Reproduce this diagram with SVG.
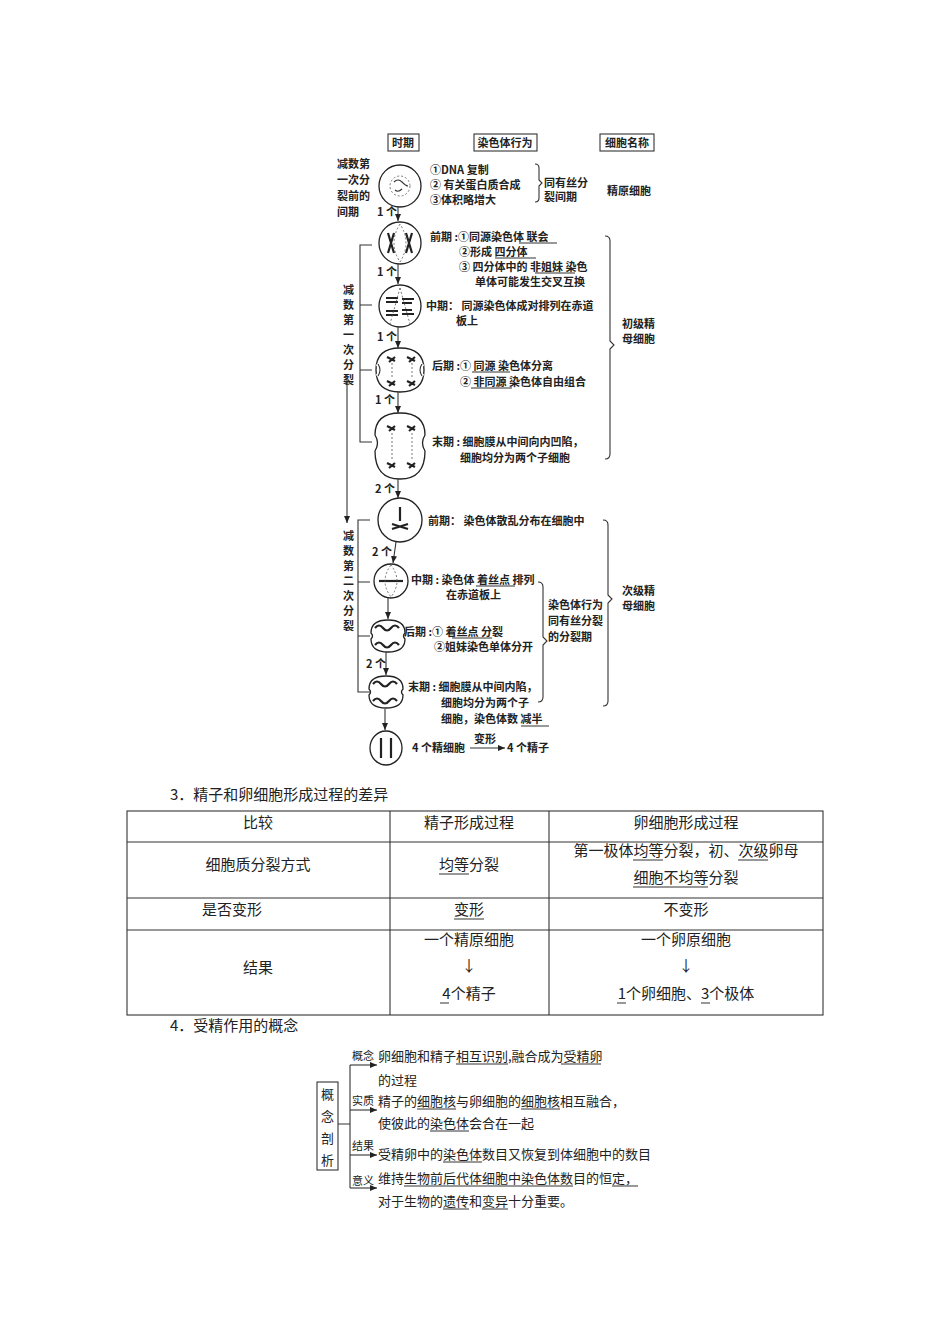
<svg xmlns="http://www.w3.org/2000/svg" width="950" height="1344" viewBox="0 0 950 1344">
<style>
text{font-family:"Noto Sans CJK SC","Noto Sans",sans-serif;fill:#222}
.s{font-size:11px;font-weight:bold}
.m{font-size:15px}
.ln{stroke:#333;stroke-width:1.1;fill:none}
.cell{stroke:#222;stroke-width:1.3;fill:#fff}
.ch{stroke:#222;stroke-width:2.2;fill:none}
.dot{stroke:#555;stroke-width:0.8;stroke-dasharray:2 2;fill:none}
.u{stroke:#333;stroke-width:1}
</style>
<defs>
<marker id="a" markerWidth="8" markerHeight="8" refX="7" refY="4" orient="auto" markerUnits="userSpaceOnUse"><path d="M0,1 L7,4 L0,7 z" fill="#222"/></marker>
</defs>
<rect width="950" height="1344" fill="#fff"/>

<g id="headers">
<rect x="388" y="134" width="31" height="17" class="ln"/><text x="403" y="147" class="s" text-anchor="middle">时期</text>
<rect x="474" y="134" width="63" height="17" class="ln"/><text x="505" y="147" class="s" text-anchor="middle">染色体行为</text>
<rect x="600" y="134" width="54" height="17" class="ln"/><text x="627" y="147" class="s" text-anchor="middle">细胞名称</text>
</g>

<g id="interphase">
<text x="337" y="168" class="s">减数第</text><text x="337" y="184" class="s">一次分</text><text x="337" y="200" class="s">裂前的</text><text x="337" y="216" class="s">间期</text>
<circle cx="400" cy="186" r="21" class="cell"/><circle cx="400" cy="186" r="10" class="dot"/>
<path d="M394,182 q4,-4 8,0 t6,4 M395,190 q3,3 7,-1" class="ln"/>
<text x="430" y="174" class="s">①DNA 复制</text>
<text x="430" y="189" class="s">② 有关蛋白质合成</text>
<text x="430" y="204" class="s">③体积略增大</text>
<path d="M535,164 q4,0 4,4 v12 l3,3 l-3,3 v12 q0,4 -4,4" class="ln"/>
<text x="544" y="187" class="s">同有丝分</text><text x="544" y="201" class="s">裂间期</text>
<text x="607" y="195" class="s">精原细胞</text>
</g>

<g id="meiosis1">
<circle cx="400" cy="243" r="21" class="cell"/>
<path d="M388,233 l6,20 M394,233 l-6,20 M406,233 l6,20 M412,233 l-6,20" class="ch"/>
<path d="M400,224 q-12,19 0,38 q12,-19 0,-38" class="dot"/>
<text x="430" y="241" class="s">前期 :①同源染色体 联会</text><line x1="519" y1="243" x2="557" y2="243" class="u"/>
<text x="459" y="256" class="s">②形成 四分体</text><line x1="495" y1="258" x2="536" y2="258" class="u"/>
<text x="459" y="271" class="s">③ 四分体中的 非姐妹 染色</text><line x1="535" y1="273" x2="575" y2="273" class="u"/>
<text x="475" y="286" class="s">单体可能发生交叉互换</text>

<circle cx="400" cy="306" r="21" class="cell"/>
<path d="M386,298 h12 M386,302 h12 M402,299 h12 M402,303 h10 M386,311 h12 M386,315 h12 M402,310 h10 M402,314 h12" class="ch"/>
<path d="M400,288 l-10,36 M400,288 l10,36" class="dot"/>
<text x="426" y="310" class="s">中期： 同源染色体成对排列在赤道</text>
<text x="456" y="325" class="s">板上</text>

<path d="M376,370 q0,-22 24,-22 q24,0 24,22 q0,22 -24,22 q-24,0 -24,-22 z" class="cell"/>
<path d="M377,364 q5,6 0,12 M423,364 q-5,6 0,12" stroke="#fff" stroke-width="3" fill="none"/>
<path d="M378,364 q4,6 0,12 M422,364 q-4,6 0,12" class="ln"/>
<path d="M387,357 l8,4 M389,362 l6,-5 M407,357 l8,4 M409,362 l6,-5 M387,381 l8,4 M389,386 l6,-5 M407,381 l8,4 M409,386 l6,-5" class="ch"/>
<path d="M392,363 v16 M412,363 v16" class="dot"/>
<text x="432" y="370" class="s">后期 :① 同源 染色体分离</text><line x1="472" y1="372" x2="510" y2="372" class="u"/>
<text x="460" y="386" class="s">② 非同源 染色体自由组合</text><line x1="471" y1="388" x2="512" y2="388" class="u"/>

<path d="M400,413 q25,0 25,22 q-5,8 0,16 q0,28 -25,28 q-25,0 -25,-28 q5,-8 0,-16 q0,-22 25,-22 z" class="cell"/>
<path d="M387,426 l8,4 M389,431 l6,-5 M407,426 l8,4 M409,431 l6,-5 M387,463 l8,4 M389,468 l6,-5 M407,463 l8,4 M409,468 l6,-5" class="ch"/>
<path d="M392,433 v28 M412,433 v28" class="dot"/>
<text x="432" y="446" class="s">末期 : 细胞膜从中间向内凹陷，</text>
<text x="460" y="462" class="s">细胞均分为两个子细胞</text>

<path d="M372,245 h-12 v197 h12 M360,305 h12 M360,370 h12" class="ln"/>
<text x="343" y="294" class="s">减</text><text x="343" y="309" class="s">数</text><text x="343" y="324" class="s">第</text><text x="343" y="339" class="s">一</text><text x="343" y="354" class="s">次</text><text x="343" y="369" class="s">分</text><text x="343" y="384" class="s">裂</text>
<path d="M605,236 q5,0 5,5 v100 l4,4 l-4,4 v105 q0,5 -5,5" class="ln"/>
<text x="622" y="328" class="s">初级精</text><text x="622" y="343" class="s">母细胞</text>
</g>

<g id="meiosis2">
<circle cx="400" cy="520" r="22" class="cell"/>
<path d="M400,507 v14 M392,524 l16,5 M392,529 l16,-5" class="ch"/>
<text x="428" y="525" class="s">前期：  染色体散乱分布在细胞中</text>

<circle cx="391" cy="581" r="17" class="cell"/>
<path d="M379,581 h24" class="ch"/><path d="M391,565 q-12,16 0,32 q12,-16 0,-32" class="dot"/>
<text x="411" y="584" class="s">中期 : 染色体 着丝点 排列</text><line x1="476" y1="586" x2="515" y2="586" class="u"/>
<text x="446" y="599" class="s">在赤道板上</text>

<path d="M388,620 q17,0 17,13 q-3,3 0,6 q0,13 -17,13 q-17,0 -17,-13 q3,-3 0,-6 q0,-13 17,-13 z" class="cell"/>
<path d="M375,628 q4,-5 8,0 t8,0 t8,0 M375,645 q4,-5 8,0 t8,0 t8,0" class="ch"/>
<text x="404" y="636" class="s">后期 :①  着丝点  分裂</text><line x1="452" y1="638" x2="492" y2="638" class="u"/>
<text x="434" y="651" class="s">②姐妹染色单体分开</text>

<path d="M386,676 q17,0 17,13 q-3,3 0,6 q0,13 -17,13 q-17,0 -17,-13 q3,-3 0,-6 q0,-13 17,-13 z" class="cell"/>
<path d="M373,684 q4,-5 8,0 t8,0 t8,0 M373,701 q4,-5 8,0 t8,0 t8,0" class="ch"/>
<text x="408" y="691" class="s">末期 : 细胞膜从中间内陷，</text>
<text x="441" y="707" class="s">细胞均分为两个子</text>
<text x="441" y="723" class="s">细胞，染色体数 减半</text><line x1="521" y1="726" x2="549" y2="726" class="u"/>

<ellipse cx="386" cy="748" rx="16" ry="17" class="cell"/>
<path d="M381,738 v20 M391,738 v20" class="ch"/>
<text x="412" y="752" class="s">4 个精细胞</text>
<line x1="470" y1="748" x2="505" y2="748" class="ln" marker-end="url(#a)"/>
<text x="474" y="743" class="s">变形</text>
<text x="507" y="752" class="s">4 个精子</text>

<path d="M370,520 h-12 v172 h12 M358,582 h12 M358,636 h12" class="ln"/>
<text x="343" y="540" class="s">减</text><text x="343" y="555" class="s">数</text><text x="343" y="570" class="s">第</text><text x="343" y="585" class="s">二</text><text x="343" y="600" class="s">次</text><text x="343" y="615" class="s">分</text><text x="343" y="630" class="s">裂</text>
<path d="M538,582 q5,0 5,5 v50 l4,4 l-4,4 v52 q0,5 -5,5" class="ln"/>
<text x="548" y="609" class="s">染色体行为</text><text x="548" y="625" class="s">同有丝分裂</text><text x="548" y="641" class="s">的分裂期</text>
<path d="M603,520 q5,0 5,5 v70 l4,4 l-4,4 v98 q0,5 -5,5" class="ln"/>
<text x="622" y="595" class="s">次级精</text><text x="622" y="610" class="s">母细胞</text>
</g>

<g id="connectors">
<line x1="398" y1="207" x2="398" y2="221" class="ln" marker-end="url(#a)"/>
<line x1="398" y1="264" x2="398" y2="284" class="ln" marker-end="url(#a)"/>
<line x1="398" y1="327" x2="398" y2="348" class="ln" marker-end="url(#a)"/>
<line x1="398" y1="392" x2="398" y2="413" class="ln" marker-end="url(#a)"/>
<line x1="398" y1="479" x2="398" y2="498" class="ln" marker-end="url(#a)"/>
<line x1="396" y1="542" x2="393" y2="563" class="ln" marker-end="url(#a)"/>
<line x1="388" y1="598" x2="388" y2="619" class="ln" marker-end="url(#a)"/>
<line x1="386" y1="652" x2="386" y2="675" class="ln" marker-end="url(#a)"/>
<line x1="385" y1="709" x2="385" y2="730" class="ln" marker-end="url(#a)"/>
<line x1="347" y1="375" x2="347" y2="523" class="ln" marker-end="url(#a)"/>
<text x="377" y="216" class="s">1 个</text>
<text x="377" y="276" class="s">1 个</text>
<text x="377" y="341" class="s">1 个</text>
<text x="375" y="404" class="s">1 个</text>
<text x="375" y="493" class="s">2 个</text>
<text x="372" y="556" class="s">2 个</text>
<text x="366" y="668" class="s">2 个</text>
</g>

<text x="170" y="800" class="m">3．精子和卵细胞形成过程的差异</text>
<g id="table">
<rect x="127" y="811" width="696" height="204" class="ln"/>
<path d="M127,842 H823 M127,898 H823 M127,930 H823 M390,811 V1015 M549,811 V1015" class="ln"/>
<g text-anchor="middle">
<text x="258" y="828" class="m">比较</text><text x="469" y="828" class="m">精子形成过程</text><text x="686" y="828" class="m">卵细胞形成过程</text>
<text x="258" y="870" class="m">细胞质分裂方式</text><text x="469" y="870" class="m">均等分裂</text>
<text x="686" y="856" class="m">第一极体均等分裂，初、次级卵母</text><text x="686" y="883" class="m">细胞不均等分裂</text>
<text x="686" y="915" class="m">不变形</text><text x="469" y="915" class="m">变形</text>
<text x="258" y="973" class="m">结果</text>
<text x="469" y="945" class="m">一个精原细胞</text><text x="469" y="971" class="m">↓</text><text x="469" y="999" class="m">4个精子</text>
<text x="686" y="945" class="m">一个卵原细胞</text><text x="686" y="971" class="m">↓</text><text x="686" y="999" class="m">1个卵细胞、3个极体</text>
</g>
<text x="202" y="915" class="m">是否变形</text>
<path d="M439,874 h30 M633,860 h30 M738,860 h30 M633,887 h75 M454,919 h30 M440,1003 h9 M617,1003 h9 M701,1003 h9" class="u"/>
</g>

<text x="170" y="1031" class="m">4．受精作用的概念</text>
<g id="concept">
<rect x="317" y="1082" width="21" height="88" class="ln"/>
<text x="321" y="1099" style="font-size:13px">概</text>
<text x="321" y="1121" style="font-size:13px">念</text>
<text x="321" y="1143" style="font-size:13px">剖</text>
<text x="321" y="1165" style="font-size:13px">析</text>
<path d="M338,1124 h12 M350,1065 V1188" class="ln"/>
<line x1="350" y1="1065" x2="377" y2="1065" class="ln" marker-end="url(#a)"/>
<line x1="350" y1="1110" x2="377" y2="1110" class="ln" marker-end="url(#a)"/>
<line x1="350" y1="1155" x2="377" y2="1155" class="ln" marker-end="url(#a)"/>
<line x1="350" y1="1188" x2="377" y2="1188" class="ln" marker-end="url(#a)"/>
<text x="352" y="1060" style="font-size:11px">概念</text><text x="352" y="1105" style="font-size:11px">实质</text><text x="352" y="1150" style="font-size:11px">结果</text><text x="352" y="1185" style="font-size:11px">意义</text>
<text x="378" y="1061" style="font-size:13px">卵细胞和精子相互识别,融合成为受精卵</text>
<text x="378" y="1085" style="font-size:13px">的过程</text>
<text x="378" y="1106" style="font-size:13px">精子的细胞核与卵细胞的细胞核相互融合，</text>
<text x="378" y="1128" style="font-size:13px">使彼此的染色体会合在一起</text>
<text x="378" y="1159" style="font-size:13px">受精卵中的染色体数目又恢复到体细胞中的数目</text>
<text x="378" y="1183" style="font-size:13px">维持生物前后代体细胞中染色体数目的恒定，</text>
<text x="378" y="1206" style="font-size:13px">对于生物的遗传和变异十分重要。</text>
<path d="M456,1064 h52 M561,1064 h40 M417,1109 h39 M521,1109 h39 M430,1131 h39 M443,1162 h39 M404,1186 h169 M612,1186 h26 M443,1209 h26 M482,1209 h26" class="u"/>
</g>
</svg>
